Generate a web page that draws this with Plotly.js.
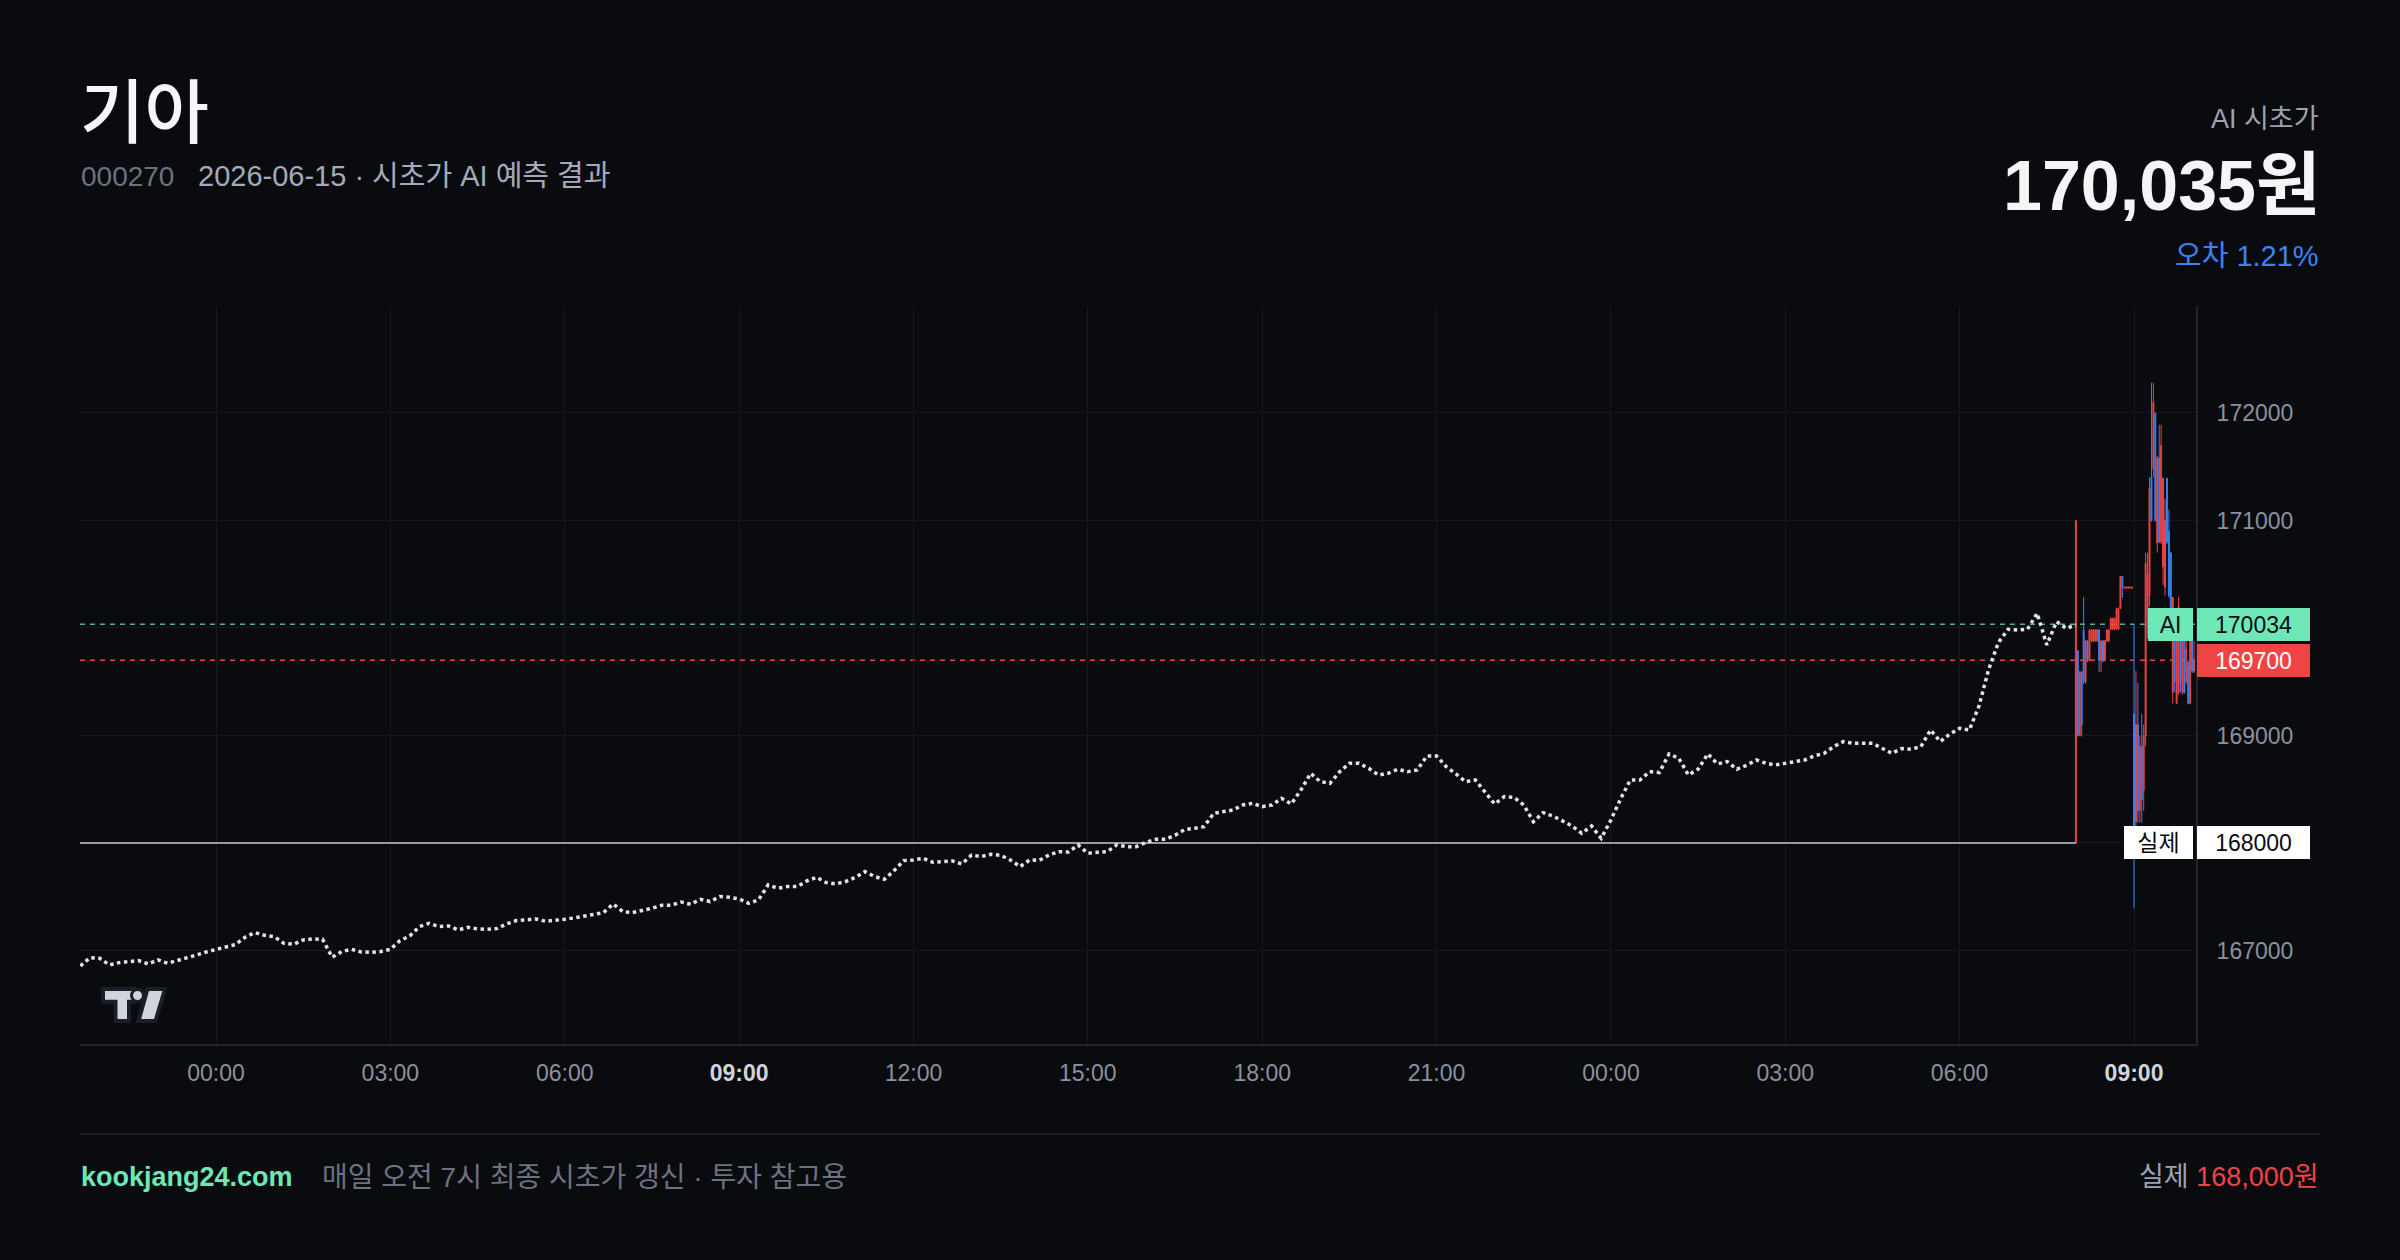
<!DOCTYPE html>
<html>
<head>
<meta charset="utf-8">
<script src="https://cdn.plot.ly/plotly-3.0.1.min.js"></script>
<style>
html,body{margin:0;padding:0;background:#0a0b0f;}
#chart{width:2400px;height:1260px;}
</style>
</head>
<body>
<div id="chart"></div>
<script>
// ---------------- DATA ----------------
// AI predicted path (10-minute samples starting 2026-06-13 21:40)
const aiPathStart = [2026, 6, 13, 21, 40];
const aiPathStepMin = 10;
const aiPathValues = [
166856,166934,166927,166865,166887,166896,166906,166875,166912,166881,
166906,166927,166958,166986,167011,167036,167055,167123,167166,167141,
167129,167067,167058,167098,167107,167104,166937,166990,167011,166986,
166983,166990,167011,167092,167135,167222,167253,167222,167228,167191,
167216,167200,167197,167203,167247,167278,167284,167293,167272,167278,
167290,167303,167321,167331,167352,167433,167362,167352,167371,167393,
167420,167420,167451,167430,167476,167455,167501,167495,167479,167439,
167470,167610,167579,167594,167594,167647,167681,167631,167619,167641,
167681,167734,167687,167662,167743,167836,167842,167857,167820,167826,
167833,167805,167888,167873,167895,167885,167842,167780,167842,167839,
167888,167919,167916,167981,167904,167913,167919,167982,167966,167966,
168006,168034,168034,168071,168124,168136,168152,168276,168291,168307,
168353,168369,168338,168353,168415,168363,168493,168648,168570,168555,
168663,168741,168741,168694,168632,168648,168685,168663,168679,168809,
168809,168710,168642,168570,168586,168477,168363,168431,168425,168353,
168198,168282,168251,168205,168158,168090,168158,168043,168214,168410,
168586,168586,168664,168655,168828,168788,168633,168686,168828,168735,
168757,168686,168723,168772,168741,168726,168741,168757,168772,168810,
168834,168896,168943,168927,168927,168927,168881,168834,168878,168872,
168896,169051,168943,169014,169067,169051,169275,169616,169864,169988,
169981,169988,170136,169842,170059,169997,170028
];

// Actual price candles (2-minute bars starting 2026-06-15 08:00)
const candleStart = [2026, 6, 15, 8, 0];
const candleStepMin = 2;
const candleOpen = [
168000,169790,169000,169590,169980,169500,169880,169700,169880,169880,
169880,169880,169980,169700,169880,169700,169880,169880,169990,169990,
169990,169990,169990,170180,170480,170370,170370,170370,170370,170370,
169200,168200,169100,168300,168900,168490,169000,170000,170300,171400,
171480,172000,170790,171580,170800,170570,170380,171390,170900,170700,
169400,170000,169300,169400,169880,169400,169880,169500,169680,169300,
169880,169600
];
const candleHigh = [
171000,169790,169600,169600,170290,169880,169890,169990,169990,169990,
169990,169990,169990,169880,169890,169890,169990,169990,170090,170090,
170090,170190,170190,170480,170480,170380,170380,170380,170380,170380,
170040,169600,169490,169000,169200,169100,170700,170700,171400,172280,
172280,172000,171600,171890,171890,171400,171200,171400,171100,170700,
170290,170100,169900,170290,169900,169900,169900,169880,169700,169880,
169900,169880
];
const candleLow = [
168000,168990,168990,168990,169480,169480,169680,169690,169870,169870,
169870,169870,169590,169590,169680,169690,169870,169870,169980,169980,
169980,169980,169980,170180,170280,170370,170370,170370,170370,170370,
167390,168000,168190,168190,168190,168300,168900,169900,170200,170990,
171400,170990,170700,170790,170780,170400,170300,170780,170280,169880,
169300,169400,169290,169380,169400,169380,169390,169480,169290,169290,
169580,169580
];
const candleClose = [
171000,169000,169590,169100,169500,169880,169700,169980,169980,169980,
169980,169980,169700,169880,169700,169880,169980,169980,170090,170090,
170090,170180,170180,170480,170380,170380,170380,170380,170380,170380,
167900,169100,168300,168900,168400,169000,170600,170500,171300,171000,
172100,171000,171580,170800,171700,171390,171000,170800,170300,169900,
170280,169500,169880,170200,169490,169880,169400,169800,169300,169880,
169600,169700
];

const aiPrice = 170034;
const lastPrice = 169700;
const actualOpen = 168000;
const actualLineStart = '2026-06-13 21:39:36';
const actualLineEnd = '2026-06-15 08:00:00';

const xTickVals = ['2026-06-14 00:00','2026-06-14 03:00','2026-06-14 06:00','2026-06-14 09:00',
  '2026-06-14 12:00','2026-06-14 15:00','2026-06-14 18:00','2026-06-14 21:00',
  '2026-06-15 00:00','2026-06-15 03:00','2026-06-15 06:00','2026-06-15 09:00'];
const xTickText = ['00:00','03:00','06:00','09:00','12:00','15:00','18:00','21:00','00:00','03:00','06:00','09:00'];
const xTickBold = [false,false,false,true,false,false,false,false,false,false,false,true];
const yTickVals = [167000,168000,169000,170000,171000,172000];
// tick labels hidden behind the price tags on the right
const yTickHidden = [168000, 170000];

const titleText = '기아';
const codeText = '000270';
const subText = '2026-06-15 · 시초가 AI 예측 결과';
const aiLabelText = 'AI 시초가';
const aiHeadline = '170,035원';
const errorText = '오차 1.21%';
const siteText = 'kookjang24.com';
const footText = '매일 오전 7시 최종 시초가 갱신 · 투자 참고용';
const actualLabel = '실제';
const actualText = '168,000원';

// ---------------- HELPERS ----------------
function pad(n){return (n<10?'0':'')+n;}
function timeSeries(start, stepMin, count){
  const base = Date.UTC(start[0], start[1]-1, start[2], start[3], start[4]);
  const out = [];
  for(let i=0;i<count;i++){
    const d = new Date(base + i*stepMin*60000);
    out.push(d.getUTCFullYear()+'-'+pad(d.getUTCMonth()+1)+'-'+pad(d.getUTCDate())+' '+pad(d.getUTCHours())+':'+pad(d.getUTCMinutes()));
  }
  return out;
}
const aiPathTimes = timeSeries(aiPathStart, aiPathStepMin, aiPathValues.length);
const candleTimes = timeSeries(candleStart, candleStepMin, candleOpen.length);

// layout geometry (pixels)
const W = 2400, H = 1260, PL = 80, PR = 2196, PT = 306, PB = 1044;
const px = x => (x - PL) / (PR - PL);
const py = y => (PB - y) / (PB - PT);

const BG = '#0a0b0f';
const GRID = '#16191f';
const AXIS = '#22252d';
const TICK = '#8b919e';
const FONT = 'Liberation Sans, Noto Sans CJK KR, sans-serif';
const KFONT = 'Noto Sans CJK KR, Liberation Sans, sans-serif';
const RED = '#ef4444', BLUE = '#3b82f6', GREEN = '#6ee7b7';

// ---------------- TRACES ----------------
const traces = [
  {
    type: 'scatter', mode: 'lines',
    x: [actualLineStart, actualLineEnd], y: [actualOpen, actualOpen],
    line: {color: 'rgba(200,200,205,0.75)', width: 2},
    hoverinfo: 'skip'
  },
  {
    type: 'scatter', mode: 'lines',
    x: aiPathTimes, y: aiPathValues,
    line: {color: '#e2e4ea', width: 3.5, dash: 'dot'},
    hoverinfo: 'skip'
  },
  {
    type: 'candlestick',
    x: candleTimes, open: candleOpen, high: candleHigh, low: candleLow, close: candleClose,
    increasing: {line: {color: RED, width: 1}, fillcolor: RED},
    decreasing: {line: {color: BLUE, width: 1}, fillcolor: BLUE},
    whiskerwidth: 0,
    hoverinfo: 'skip'
  }
];

// ---------------- ANNOTATIONS ----------------
const ann = [];
function txt(text, x, y, xanchor, size, color, weight, family){
  ann.push({
    text: text, xref: 'paper', yref: 'paper', x: px(x), y: py(y),
    xanchor: xanchor, yanchor: 'middle', showarrow: false, borderpad: 0,
    font: {family: family || FONT, size: size, color: color, weight: weight || 400}
  });
}
txt(titleText, 79, 107, 'left', 70, '#f5f6f8', 500, KFONT);
txt(codeText, 80, 176, 'left', 28, '#6b7280');
txt(subText, 197, 176, 'left', 29, '#a3abbb');
txt(aiLabelText, 2320, 119, 'right', 27, '#9ca3af');
txt(aiHeadline, 2321, 186, 'right', 70, '#f4f5f7', 700);
txt(errorText, 2320, 256, 'right', 29, BLUE);
txt(siteText, 80, 1177, 'left', 27, GREEN, 700);
txt(footText, 321, 1177, 'left', 28, '#6b7280');
txt(actualLabel + ' <span style="color:' + RED + '">' + actualText + '</span>', 2320, 1177, 'right', 27, '#9ca3af');

function tag(text, xLeftPx, xRightPx, yVal, bg, fg){
  ann.push({
    text: text, xref: 'paper', yref: 'y',
    x: px(xLeftPx), xanchor: 'left', y: yVal, yanchor: 'middle',
    showarrow: false, bgcolor: bg, borderwidth: 0, borderpad: 3,
    width: (xRightPx - xLeftPx) - 6, height: 27, align: 'center', valign: 'middle',
    font: {family: FONT, size: 23, color: fg}
  });
}
tag('AI', 2148, 2193, aiPrice, GREEN, '#0a0b0f');
tag(String(aiPrice), 2197, 2310, aiPrice, GREEN, '#0a0b0f');
tag(String(lastPrice), 2197, 2310, lastPrice, RED, '#ffffff');
tag(actualLabel, 2124, 2193, actualOpen, '#ffffff', '#0a0b0f');
tag(String(actualOpen), 2197, 2310, actualOpen, '#ffffff', '#0a0b0f');

// ---------------- SHAPES ----------------
function path(pts){
  return 'M' + pts.map(p => px(p[0]).toFixed(5) + ',' + py(p[1]).toFixed(5)).join(' L') + ' Z';
}
const shapes = [
  {type: 'line', xref: 'paper', yref: 'y', x0: 0, x1: 1, y0: aiPrice, y1: aiPrice,
   line: {color: 'rgba(110,231,183,0.75)', width: 1.5, dash: '5px,5px'}, layer: 'below'},
  {type: 'line', xref: 'paper', yref: 'y', x0: 0, x1: 1, y0: lastPrice, y1: lastPrice,
   line: {color: 'rgba(239,68,68,1)', width: 1.5, dash: '5px,5px'}, layer: 'below'},
  {type: 'line', xref: 'paper', yref: 'paper', x0: px(80), x1: px(2320), y0: py(1134), y1: py(1134),
   line: {color: '#1c1f26', width: 2}},
  // TradingView-style logo
  {type: 'path', xref: 'paper', yref: 'paper',
   path: path([[103,989],[134,989],[134,1001.7],[129,1001.7],[129,1021],[115.5,1021],[115.5,1001.7],[103,1001.7]]),
   fillcolor: '#d1d4dc', line: {color: '#1a1e29', width: 4}},
  {type: 'circle', xref: 'paper', yref: 'paper', x0: px(131.5), x1: px(143.5), y0: py(989.5), y1: py(1001.5),
   fillcolor: '#d1d4dc', line: {color: '#1a1e29', width: 3}},
  {type: 'path', xref: 'paper', yref: 'paper',
   path: path([[147.5,989],[165,989],[155.5,1021],[138.5,1021]]),
   fillcolor: '#d1d4dc', line: {color: '#1a1e29', width: 4}}
];

// ---------------- LAYOUT ----------------
const layout = {
  width: W, height: H,
  paper_bgcolor: BG, plot_bgcolor: BG,
  margin: {l: PL, r: W - PR, t: PT, b: H - PB, pad: 0},
  showlegend: false,
  hovermode: false,
  font: {family: FONT, color: TICK, size: 23},
  xaxis: {
    type: 'date',
    range: ['2026-06-13 21:39:36', '2026-06-15 10:04:00'],
    tickvals: xTickVals,
    ticktext: xTickText.map((t, i) => xTickBold[i] ? '<b><span style="color:#d1d4dc">' + t + '</span></b>' : t),
    tickfont: {family: FONT, size: 23, color: TICK},
    showgrid: true, gridcolor: GRID, gridwidth: 1,
    showline: true, linecolor: AXIS, linewidth: 2,
    zeroline: false, ticks: '', ticklabelstandoff: 7,
    rangeslider: {visible: false}, fixedrange: true
  },
  yaxis: {
    side: 'right',
    range: [166130, 172995],
    tickvals: yTickVals,
    ticktext: yTickVals.map(v => yTickHidden.indexOf(v) >= 0 ? '' : String(v)),
    tickfont: {family: FONT, size: 23, color: TICK},
    showgrid: true, gridcolor: GRID, gridwidth: 1,
    showline: true, linecolor: AXIS, linewidth: 2,
    zeroline: false, ticks: '', ticklabelstandoff: 14, fixedrange: true
  },
  annotations: ann,
  shapes: shapes
};

Plotly.newPlot('chart', traces, layout, {displayModeBar: false, staticPlot: true});
</script>
</body>
</html>
